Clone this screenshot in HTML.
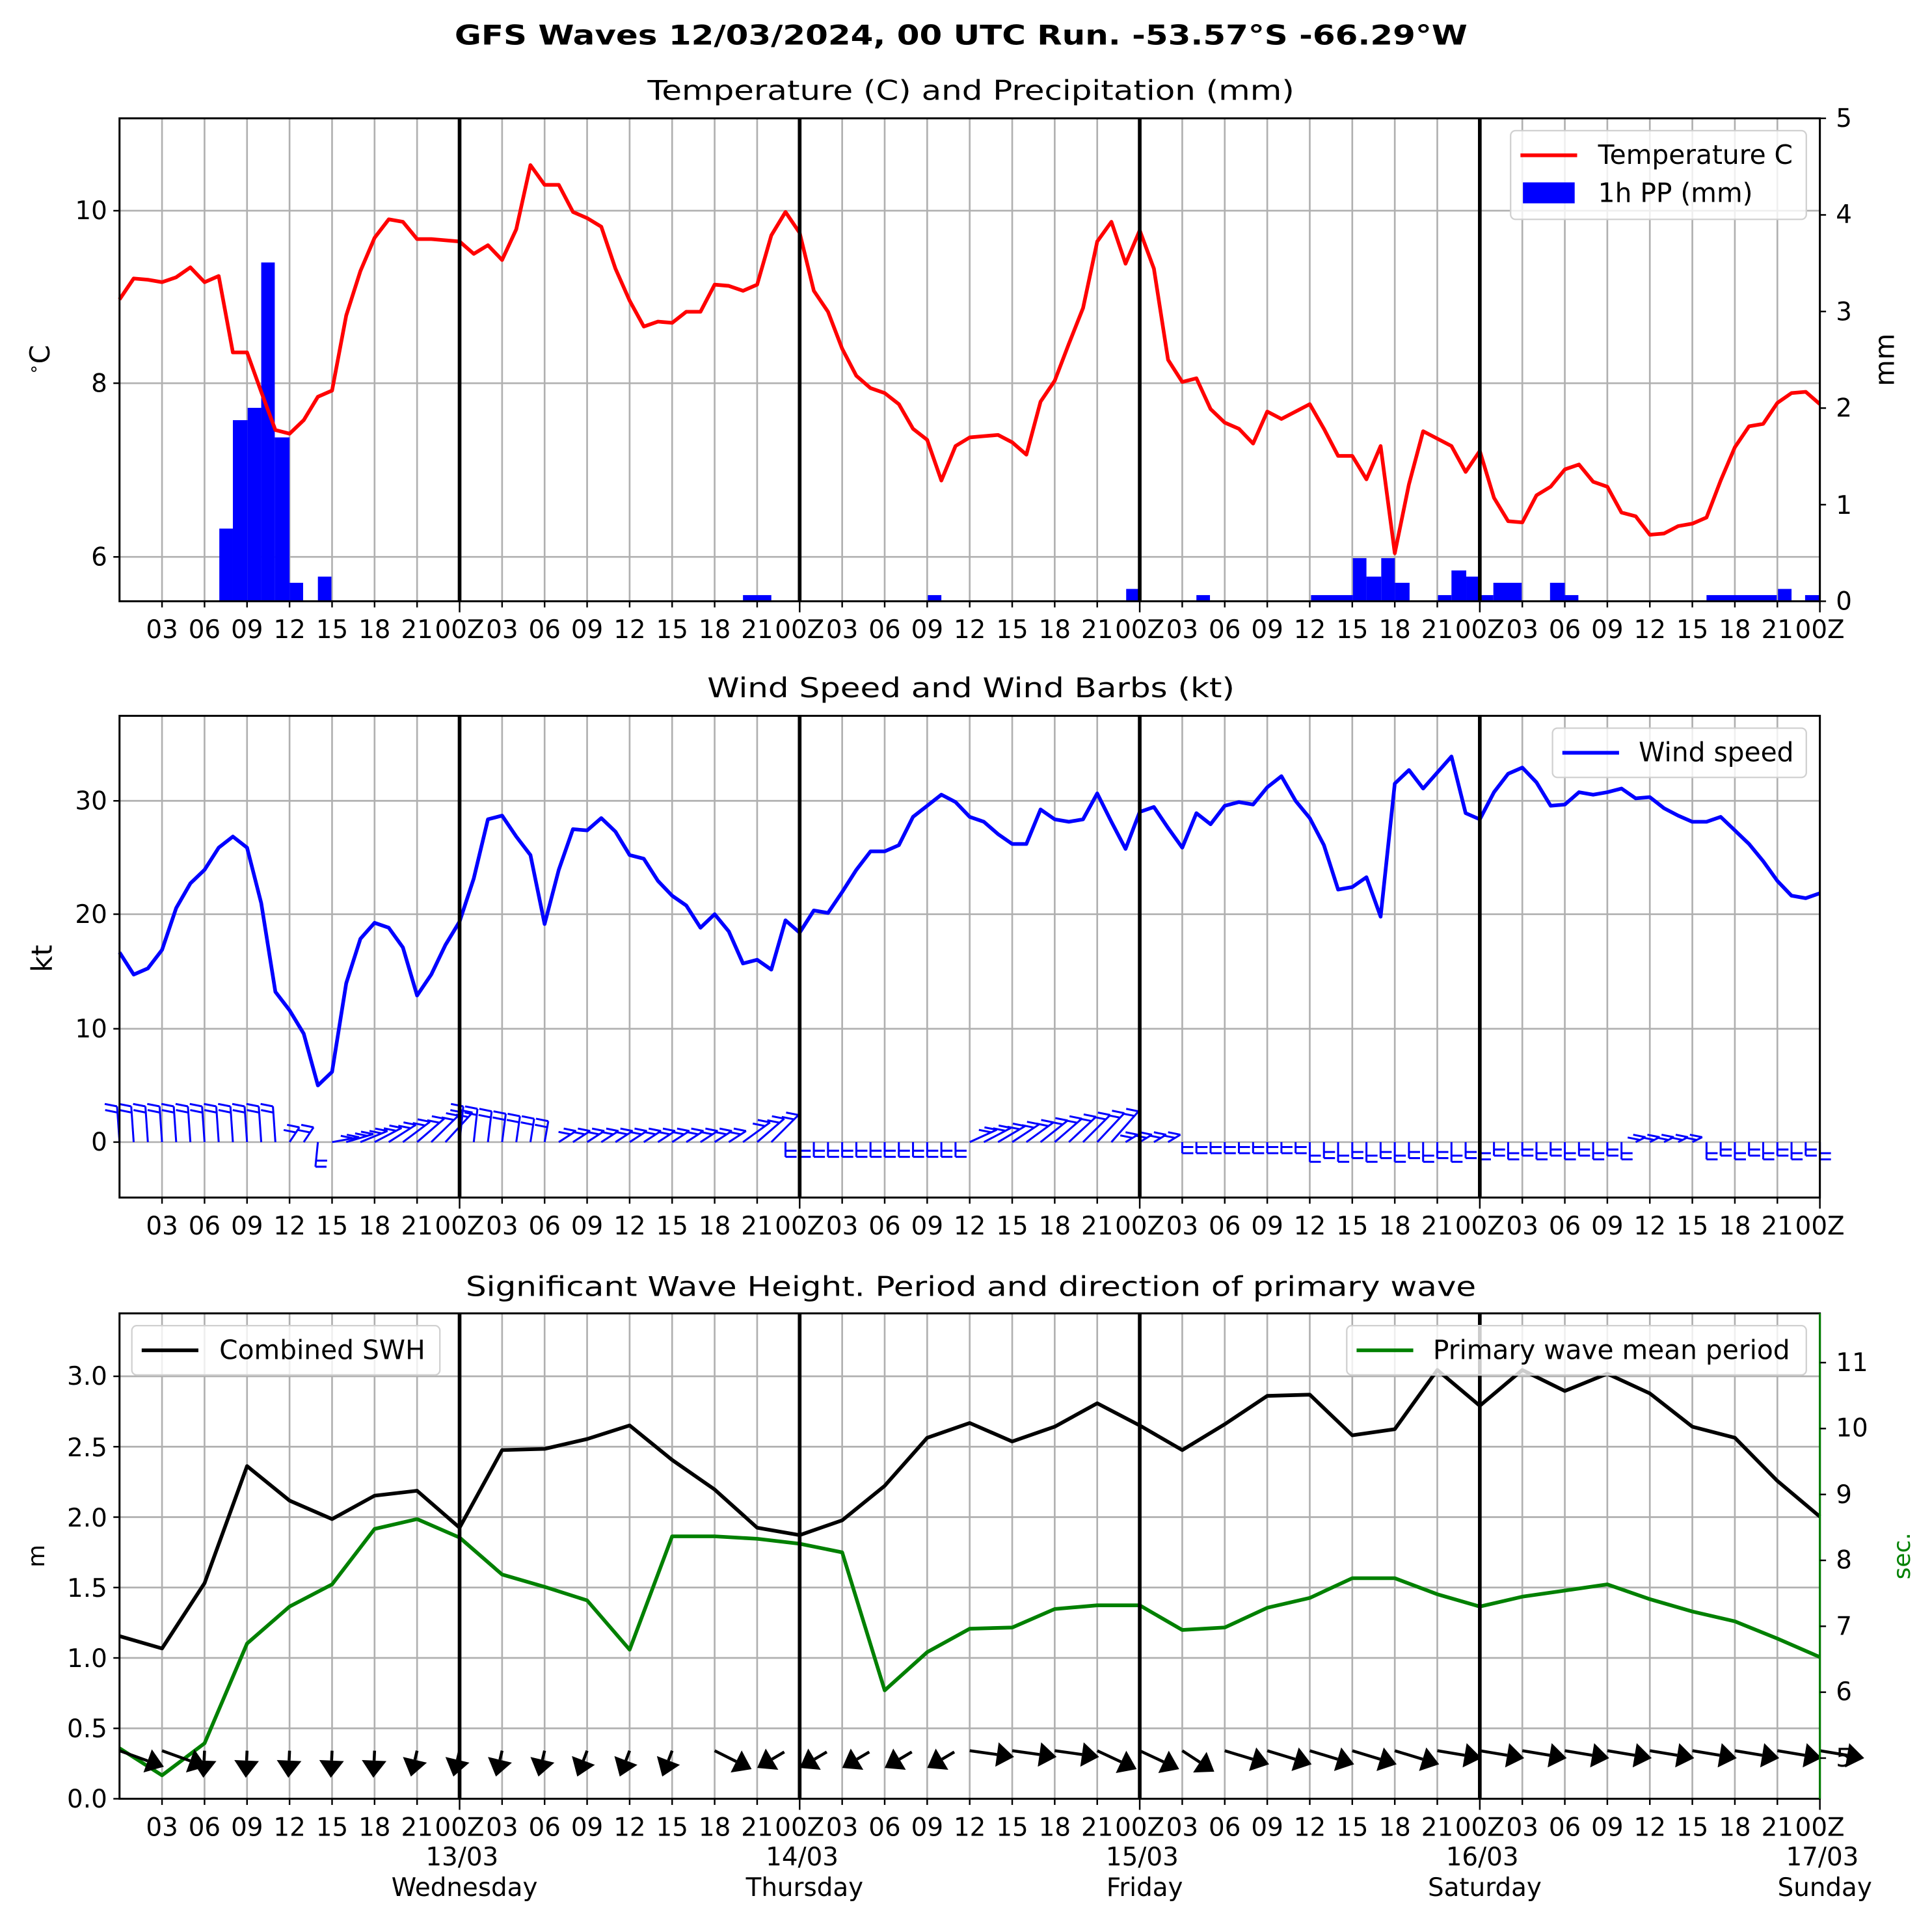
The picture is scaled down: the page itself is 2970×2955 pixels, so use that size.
<!DOCTYPE html>
<html><head><meta charset="utf-8"><style>html,body{margin:0;padding:0;background:#fff}svg{display:block}</style></head>
<body>
<svg xmlns="http://www.w3.org/2000/svg" width="2970" height="2955" viewBox="0 0 1568 1560" font-family="DejaVu Sans, Liberation Sans, sans-serif">
<rect width="1568" height="1560" fill="#fff"/>
<text x="780" y="36" font-size="22" font-weight="bold" text-anchor="middle" textLength="822" lengthAdjust="spacingAndGlyphs">GFS Waves 12/03/2024, 00 UTC Run. -53.57°S -66.29°W</text>
<text x="788" y="81" font-size="22" text-anchor="middle" textLength="525" lengthAdjust="spacingAndGlyphs">Temperature (C) and Precipitation (mm)</text>
<text x="788" y="566" font-size="22" text-anchor="middle" textLength="428" lengthAdjust="spacingAndGlyphs">Wind Speed and Wind Barbs (kt)</text>
<text x="788" y="1052" font-size="22" text-anchor="middle" textLength="820" lengthAdjust="spacingAndGlyphs">Significant Wave Height. Period and direction of primary wave</text>

<g id="grids" stroke="#b0b0b0" stroke-width="1.4"></g>
<g id="content"></g>

<!-- x tick labels -->
<g font-size="20.5" text-anchor="middle">
<text y="518"><tspan x="131.5">03</tspan><tspan x="166">06</tspan><tspan x="200.5">09</tspan><tspan x="235">12</tspan><tspan x="269.5">15</tspan><tspan x="304">18</tspan><tspan x="338.5">21</tspan><tspan x="373">00Z</tspan><tspan x="407.5">03</tspan><tspan x="442">06</tspan><tspan x="476.5">09</tspan><tspan x="511">12</tspan><tspan x="545.5">15</tspan><tspan x="580">18</tspan><tspan x="614.5">21</tspan><tspan x="649">00Z</tspan><tspan x="683.5">03</tspan><tspan x="718">06</tspan><tspan x="752.5">09</tspan><tspan x="787">12</tspan><tspan x="821.5">15</tspan><tspan x="856">18</tspan><tspan x="890.5">21</tspan><tspan x="925">00Z</tspan><tspan x="959.5">03</tspan><tspan x="994">06</tspan><tspan x="1028.5">09</tspan><tspan x="1063">12</tspan><tspan x="1097.5">15</tspan><tspan x="1132">18</tspan><tspan x="1166.5">21</tspan><tspan x="1201">00Z</tspan><tspan x="1235.5">03</tspan><tspan x="1270">06</tspan><tspan x="1304.5">09</tspan><tspan x="1339">12</tspan><tspan x="1373.5">15</tspan><tspan x="1408">18</tspan><tspan x="1442.5">21</tspan><tspan x="1477">00Z</tspan></text>
<text y="1002"><tspan x="131.5">03</tspan><tspan x="166">06</tspan><tspan x="200.5">09</tspan><tspan x="235">12</tspan><tspan x="269.5">15</tspan><tspan x="304">18</tspan><tspan x="338.5">21</tspan><tspan x="373">00Z</tspan><tspan x="407.5">03</tspan><tspan x="442">06</tspan><tspan x="476.5">09</tspan><tspan x="511">12</tspan><tspan x="545.5">15</tspan><tspan x="580">18</tspan><tspan x="614.5">21</tspan><tspan x="649">00Z</tspan><tspan x="683.5">03</tspan><tspan x="718">06</tspan><tspan x="752.5">09</tspan><tspan x="787">12</tspan><tspan x="821.5">15</tspan><tspan x="856">18</tspan><tspan x="890.5">21</tspan><tspan x="925">00Z</tspan><tspan x="959.5">03</tspan><tspan x="994">06</tspan><tspan x="1028.5">09</tspan><tspan x="1063">12</tspan><tspan x="1097.5">15</tspan><tspan x="1132">18</tspan><tspan x="1166.5">21</tspan><tspan x="1201">00Z</tspan><tspan x="1235.5">03</tspan><tspan x="1270">06</tspan><tspan x="1304.5">09</tspan><tspan x="1339">12</tspan><tspan x="1373.5">15</tspan><tspan x="1408">18</tspan><tspan x="1442.5">21</tspan><tspan x="1477">00Z</tspan></text>
<text y="1490"><tspan x="131.5">03</tspan><tspan x="166">06</tspan><tspan x="200.5">09</tspan><tspan x="235">12</tspan><tspan x="269.5">15</tspan><tspan x="304">18</tspan><tspan x="338.5">21</tspan><tspan x="373">00Z</tspan><tspan x="407.5">03</tspan><tspan x="442">06</tspan><tspan x="476.5">09</tspan><tspan x="511">12</tspan><tspan x="545.5">15</tspan><tspan x="580">18</tspan><tspan x="614.5">21</tspan><tspan x="649">00Z</tspan><tspan x="683.5">03</tspan><tspan x="718">06</tspan><tspan x="752.5">09</tspan><tspan x="787">12</tspan><tspan x="821.5">15</tspan><tspan x="856">18</tspan><tspan x="890.5">21</tspan><tspan x="925">00Z</tspan><tspan x="959.5">03</tspan><tspan x="994">06</tspan><tspan x="1028.5">09</tspan><tspan x="1063">12</tspan><tspan x="1097.5">15</tspan><tspan x="1132">18</tspan><tspan x="1166.5">21</tspan><tspan x="1201">00Z</tspan><tspan x="1235.5">03</tspan><tspan x="1270">06</tspan><tspan x="1304.5">09</tspan><tspan x="1339">12</tspan><tspan x="1373.5">15</tspan><tspan x="1408">18</tspan><tspan x="1442.5">21</tspan><tspan x="1477">00Z</tspan></text>
<text y="1514"><tspan x="375">13/03</tspan><tspan x="651">14/03</tspan><tspan x="927">15/03</tspan><tspan x="1203">16/03</tspan><tspan x="1479">17/03</tspan></text>
<text y="1539"><tspan x="377">Wednesday</tspan><tspan x="653">Thursday</tspan><tspan x="929">Friday</tspan><tspan x="1205">Saturday</tspan><tspan x="1481">Sunday</tspan></text>
</g>

<!-- y tick labels -->
<g font-size="20.5" text-anchor="end">
<text x="87" y="178">10</text><text x="87" y="318">8</text><text x="87" y="459">6</text>
<text x="87" y="657">30</text><text x="87" y="749">20</text><text x="87" y="842">10</text><text x="87" y="934">0</text>
<text x="87" y="1124">3.0</text><text x="87" y="1182">2.5</text><text x="87" y="1239">2.0</text><text x="87" y="1296">1.5</text><text x="87" y="1353">1.0</text><text x="87" y="1410">0.5</text><text x="87" y="1467">0.0</text>
</g>
<g font-size="20.5" text-anchor="start">
<text x="1490" y="103">5</text><text x="1490" y="181">4</text><text x="1490" y="260">3</text><text x="1490" y="338">2</text><text x="1490" y="417">1</text><text x="1490" y="495">0</text>
<text x="1490" y="1113">11</text><text x="1490" y="1166">10</text><text x="1490" y="1220">9</text><text x="1490" y="1273">8</text><text x="1490" y="1327">7</text><text x="1490" y="1380">6</text><text x="1490" y="1434">5</text>
</g>
<text transform="translate(40,292) rotate(-90)" font-size="22" text-anchor="middle"><tspan font-size="14" dy="-8">∘</tspan><tspan dy="8">C</tspan></text>
<text transform="translate(1537,292) rotate(-90)" font-size="22" text-anchor="middle">mm</text>
<text transform="translate(42,778) rotate(-90)" font-size="23" text-anchor="middle">kt</text>
<text transform="translate(36,1263) rotate(-90)" font-size="19" text-anchor="middle">m</text>
<text transform="translate(1550,1263) rotate(-90)" font-size="19" text-anchor="middle" fill="#008000">sec.</text>

<!-- legends -->
<rect x="1226" y="106" width="240" height="72" rx="4" fill="#fff" fill-opacity="0.8" stroke="#d0d0d0" stroke-width="1.2"/>
<line x1="1234" y1="126" x2="1280" y2="126" stroke="#f00" stroke-width="3"/>
<rect x="1236" y="148" width="42" height="17" fill="#00f"/>
<text x="1297" y="133" font-size="21.5">Temperature C</text>
<text x="1297" y="164" font-size="21.5">1h PP (mm)</text>

<rect x="1260" y="591" width="206" height="40" rx="4" fill="#fff" fill-opacity="0.8" stroke="#d0d0d0" stroke-width="1.2"/>
<line x1="1268" y1="611" x2="1314" y2="611" stroke="#00f" stroke-width="3"/>
<text x="1330" y="618" font-size="21.5">Wind speed</text>

<rect x="107" y="1076" width="250" height="40" rx="4" fill="#fff" fill-opacity="0.8" stroke="#d0d0d0" stroke-width="1.2"/>
<line x1="115" y1="1096" x2="161" y2="1096" stroke="#000" stroke-width="3"/>
<text x="178" y="1103" font-size="21.5">Combined SWH</text>

<rect x="1093" y="1076" width="373" height="40" rx="4" fill="#fff" fill-opacity="0.8" stroke="#d0d0d0" stroke-width="1.2"/>
<line x1="1101" y1="1096" x2="1147" y2="1096" stroke="#008000" stroke-width="3"/>
<text x="1163" y="1103" font-size="21.5">Primary wave mean period</text>

<script>
(function(){
var NS="http://www.w3.org/2000/svg";
var g=document.getElementById('grids'), c=document.getElementById('content');
function el(p,tag,a){var e=document.createElementNS(NS,tag);for(var k in a)e.setAttribute(k,a[k]);p.appendChild(e);return e;}
var panels=[[96,488],[581,972],[1066,1460]];
var L=97,R=1477;
panels.forEach(function(p){
 for(var k=1;k<40;k++){var x=L+34.5*k; if(k%8==0)continue; el(g,'line',{x1:x,y1:p[0],x2:x,y2:p[1]});}
});
[171,311,452].forEach(function(y){el(g,'line',{x1:L,y1:y,x2:R,y2:y});});
[650,742,835,927].forEach(function(y){el(g,'line',{x1:L,y1:y,x2:R,y2:y});});
for(var i=0;i<=6;i++){var y=1460-57.15*i;el(g,'line',{x1:L,y1:y,x2:R,y2:y});}
function poly(pts,col,w){el(c,'polyline',{points:pts.map(function(p){return p.join(',');}).join(' '),fill:'none',stroke:col,'stroke-width':w||3,'stroke-linejoin':'round'});}
var bars=[[178,189,429],[189,201,341],[201,212,331],[212,223,213],[223,235,355],[235,246,473],[258,269,468],[603,626,483],[753,764,483],[914,925,478],[971,982,483],[1064,1098,483],[1098,1109,453],[1109,1121,468],[1121,1132,453],[1132,1144,473],[1167,1178,483],[1178,1190,463],[1190,1201,468],[1201,1212,483],[1212,1235,473],[1258,1270,473],[1270,1281,483],[1385,1442,483],[1443,1454,478],[1465,1477,483]];
bars.forEach(function(b){el(c,'rect',{x:b[0],y:b[2],width:b[1]-b[0],height:488-b[2],fill:'#00f'});});
var T=[243,226,227,229,225,217,229,224,286,286,318,349,352,341,322,317,256,220,193,178,180,194,194,195,196,206,199,211,186,134,150,150,172,177,184,218,244,265,261,262,253,253,231,232,236,231,191,172,189,236,253,283,305,315,319,328,348,357,390,362,355,354,353,359,369,326,309,279,250,196,180,214,187,218,292,310,307,332,343,348,360,334,340,334,328,348,370,370,389,362,449,393,350,356,362,383,366,404,423,424,402,395,381,377,391,395,416,419,434,433,427,425,420,390,363,346,344,327,319,318,328];
poly(T.map(function(y,i){return [L+i*11.5,y];}),'#f00',3);
var W=[773,791,786,771,737,717,706,688,679,688,733,805,820,839,881,870,798,762,749,753,769,808,791,767,748,713,665,662,679,694,750,706,673,674,664,675,694,697,715,727,735,753,742,756,782,779,787,747,757,739,741,724,706,691,691,686,663,654,645,651,663,667,677,685,685,657,665,667,665,644,667,689,659,655,672,688,660,669,654,651,653,639,630,650,664,686,722,720,712,744,636,625,640,627,614,660,665,643,628,623,635,654,653,643,645,643,640,648,647,656,662,667,667,663,674,685,699,715,727,729,725];
poly(W.map(function(y,i){return [L+i*11.5,y];}),'#00f',3);
// wind barbs
var bg=el(c,'g',{stroke:'#00f','stroke-width':1.6,fill:'none'});
for(var h=0;h<=120;h++){
 var x=L+h*11.5,y0=927,dx,dy,up=true;
 if(h<12){dx=-2;dy=-29;}
 else if(h<15){dx=h==14?-2:8;dy=h==14?20:-12;up=h!=14;}
 else if(h<24){dx=22;dy=-(h-15)*2.5-4;}
 else if(h<31){dx=3;dy=-29+(h-24)*2;}
 else if(h<44){dx=14;dy=-9;}
 else if(h<47){dx=22;dy=-16-(h-44)*3;}
 else if(h<60){dx=0;dy=12;up=false;}
 else if(h<71){dx=22;dy=-10-(h-60)*1.5;}
 else if(h<75){dx=10;dy=-6;}
 else if(h<84){dx=0;dy=9;up=false;}
 else if(h<96){dx=0;dy=(h%2?13:16);up=false;}
 else if(h>=107&&h<=111){dx=8;dy=-4;}
 else {dx=0;dy=(h%2?11:14);up=false;}
 var x2=x+dx,y2=y0+dy;
 el(bg,'line',{x1:x,y1:y0,x2:x2,y2:y2});
 var len=Math.sqrt(dx*dx+dy*dy)||1,ux=dx/len,uy=dy/len;
 for(var f=0;f<2;f++){
  var bx=x2-ux*f*5,by=y2-uy*f*5;
  if(up){el(bg,'line',{x1:bx,y1:by,x2:bx-10,y2:by-2});}
  else{el(bg,'line',{x1:bx,y1:by,x2:bx+9,y2:by});}
 }
}
var S=[1328,1338,1285,1190,1218,1233,1214,1210,1240,1177,1176,1168,1157,1185,1209,1240,1246,1234,1206,1167,1155,1170,1158,1139,1157,1177,1156,1133,1132,1165,1160,1112,1141,1112,1129,1115,1131,1158,1167,1202,1231];
poly(S.map(function(y,i){return [L+i*34.5,y];}),'#000',3);
var P=[1419,1441,1415,1334,1304,1286,1241,1233,1248,1278,1288,1299,1339,1247,1247,1249,1253,1260,1372,1341,1322,1321,1306,1303,1303,1323,1321,1305,1297,1281,1281,1294,1304,1296,1291,1286,1298,1308,1316,1330,1345];
poly(P.map(function(y,i){return [L+i*34.5,y];}),'#008000',3);
var ag=el(c,'g',{fill:'#000',stroke:'#000'});
function arrow(x,y,dx,dy){
 var len=Math.sqrt(dx*dx+dy*dy),ux=dx/len,uy=dy/len,px=-uy,py=ux;
 var hl=14,hw=10;
 var bx=x+dx-ux*hl,by=y+dy-uy*hl;
 el(ag,'line',{x1:x,y1:y,x2:bx,y2:by,'stroke-width':2.4});
 el(ag,'polygon',{points:[x+dx,y+dy,bx+px*hw,by+py*hw,bx-px*hw,by-py*hw].join(','),stroke:'none'});
}
for(var k=0;k<=40;k++){
 var x=L+k*34.5,y=1421,d;
 if(k<=1)d=[36,13];
 else if(k<=6)d=[-1,22];
 else if(k<=10)d=[-5,21];
 else if(k<=13)d=[-8,21];
 else if(k==14)d=[30,15];
 else if(k<=19)d=[-22,13];
 else if(k<=22)d=[36,5];
 else if(k<=24)d=[32,15];
 else if(k==25)d=[26,17];
 else if(k<=30)d=[36,11];
 else d=[36,6];
 if(k>=15&&k<=19){arrow(x+22,y+1,d[0],d[1]);}
 else arrow(x,y,d[0],d[1]);
}
panels.forEach(function(p,pi){
 [373,649,925,1201].forEach(function(x){el(c,'line',{x1:x,y1:p[0],x2:x,y2:p[1],stroke:'#000','stroke-width':3});});
 el(c,'rect',{x:L,y:p[0],width:R-L,height:p[1]-p[0],fill:'none',stroke:'#000','stroke-width':1.6});
 if(pi==2)el(c,'line',{x1:R,y1:p[0],x2:R,y2:p[1],stroke:'#008000','stroke-width':1.6});
 for(var k=1;k<=40;k++){var x=L+34.5*k,tl=(k%8==0)?9:5;el(c,'line',{x1:x,y1:p[1],x2:x,y2:p[1]+tl,stroke:'#000','stroke-width':1.3});}
});
function ytick(x,y,dir){el(c,'line',{x1:x,y1:y,x2:x+dir*5,y2:y,stroke:'#000','stroke-width':1.3});}
[171,311,452,650,742,835,927].forEach(function(y){ytick(L,y,-1);});
for(var i=0;i<=6;i++)ytick(L,1460-57.15*i,-1);
for(var i=0;i<=5;i++)ytick(R,488-78.4*i,1);
for(var i=0;i<=6;i++)ytick(R,1427-53.5*i,1);
})();
</script>
</svg>
</body></html>
